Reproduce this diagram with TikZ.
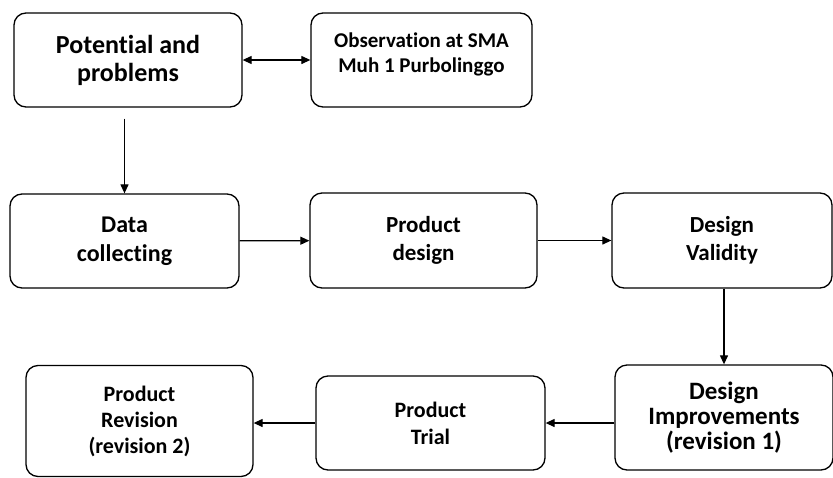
\documentclass[tikz,border=0pt]{standalone}
\usepackage{fontspec}
\setmainfont{Carlito}[Ligatures=NoCommon]
\usepackage{tikz}
\usetikzlibrary{arrows.meta, positioning}

\begin{document}
\begin{tikzpicture}[
      x=1pt, y=-1pt,
      box/.style={rectangle, rounded corners=12pt, draw, line width=1.3pt,
                  inner sep=2pt, align=center,
                  font=\bfseries\fontsize{23}{28}\selectfont},
      arr/.style={-{Triangle[length=9pt,width=8pt]}, line width=1.2pt},
      darr/.style={{Triangle[length=9pt,width=8pt]}-{Triangle[length=9pt,width=8pt]}, line width=1.2pt}
    ]
    \useasboundingbox (0,0) rectangle (833,477);

    % first row
    \node[box, minimum width=228pt, minimum height=94pt,
          font=\bfseries\fontsize{26}{28}\selectfont] (pot) at (128,60) {Potential and\\problems};
    \node[box, minimum width=221pt, minimum height=94pt, text depth=14pt,
          font=\bfseries\fontsize{21}{25}\selectfont] (obs) at (421.5,60) {Observation at SMA\\Muh 1 Purbolinggo};

    % second row
    \node[box, minimum width=229pt, minimum height=94pt,
          font=\bfseries\fontsize{24}{29}\selectfont] (data) at (124.5,241) {Data\\collecting};
    \node[box, minimum width=227pt, minimum height=95pt] (prod) at (423.5,240.5) {Product\\design};
    \node[box, minimum width=220pt, minimum height=95pt] (valid) at (722,240.5) {Design\\Validity};

    % third row
    \node[box, minimum width=218pt, minimum height=105pt,
          font=\bfseries\fontsize{25}{25}\selectfont] (improv) at (724,417.5) {Design\\Improvements\\(revision 1)};
    \node[box, minimum width=229pt, minimum height=94pt,
          font=\bfseries\fontsize{22}{27}\selectfont] (trial) at (430.5,423) {Product\\Trial};
    \node[box, minimum width=227pt, minimum height=111pt,
          font=\bfseries\fontsize{22}{26}\selectfont] (revis) at (139.5,421) {Product\\Revision\\(revision 2)};

    \coordinate (potbot) at ([yshift=-11pt]pot.south);

    \draw[darr] (pot) -- (obs);
    \draw[arr] (potbot -| data.north) -- (data.north);
    \draw[arr] (data) -- (prod);
    \draw[arr] (prod) -- (valid);
    \draw[arr] (valid.south -| improv.north) -- (improv.north);
    \draw[arr] (improv.west |- trial.west) -- (trial.east);
    \draw[arr] (trial.west) -- (trial.west -| revis.east);
  \end{tikzpicture}
\end{document}
